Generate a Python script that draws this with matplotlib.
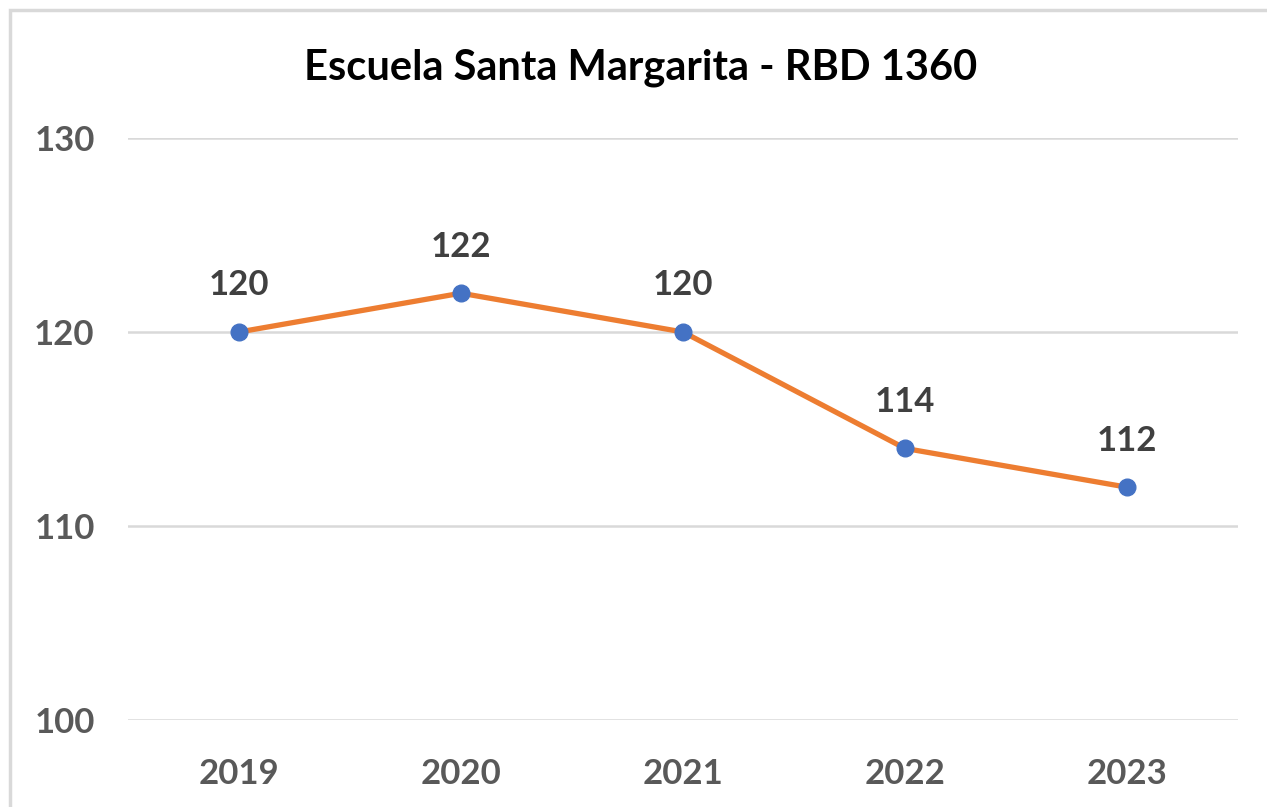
import matplotlib
matplotlib.use('Agg')
from matplotlib import pyplot as plt
from matplotlib.patches import Rectangle

years = ['2019', '2020', '2021', '2022', '2023']
values = [120, 122, 120, 114, 112]
y_ticks = [100, 110, 120, 130]
title = 'Escuela Santa Margarita - RBD 1360'

plt.rcParams['font.family'] = ['Lato', 'DejaVu Sans']

fig = plt.figure(figsize=(12.67, 8.07), dpi=100)
ax = fig.add_axes([128 / 1267, 1 - 720 / 807, 1110 / 1267, (720 - 138) / 807])

# marco gris alrededor del gráfico
fig.patches.append(Rectangle((10 / 1267, -0.01), 1.0, 1 - 10 / 807 + 0.01,
                             transform=fig.transFigure, fill=False,
                             edgecolor='#d9d9d9', linewidth=2.5))

x = list(range(len(years)))
ax.plot(x, values, color='#ED7D31', linewidth=3.8, zorder=3)
ax.plot(x, values, 'o', color='#4472C4', markersize=12, zorder=4)

for xi, v in zip(x, values):
    ax.annotate(str(v), (xi, v), xytext=(0, 22), textcoords='offset points',
                ha='center', va='bottom', fontsize=25, fontweight='bold', color='#404040')

ax.set_xlim(-0.5, len(years) - 0.5)
ax.set_ylim(100, 130)
ax.set_yticks(y_ticks)
ax.set_xticks(x)
ax.set_xticklabels(years)
ax.grid(axis='y', color='#d9d9d9', linewidth=1.8)
ax.set_axisbelow(True)
for s in ax.spines.values():
    s.set_visible(False)
ax.tick_params(length=0, labelsize=25, labelcolor='#595959')
for lbl in ax.get_xticklabels() + ax.get_yticklabels():
    lbl.set_fontweight('bold')
ax.tick_params(axis='y', pad=24)
ax.tick_params(axis='x', pad=27)

fig.text(0.506, 1 - 68 / 807, title, ha='center', va='center',
         fontsize=30, fontweight='bold', color='black')

fig.savefig('out.png', dpi=100)
